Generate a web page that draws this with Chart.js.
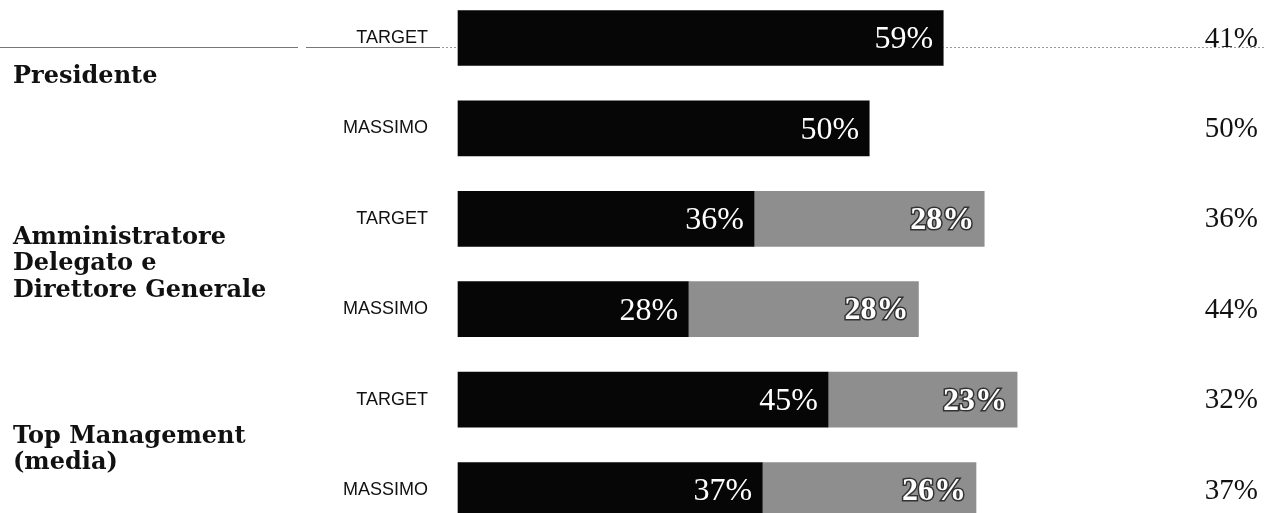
<!DOCTYPE html>
<html>
<head>
<meta charset="utf-8">
<script src="https://cdn.jsdelivr.net/npm/chart.js@4.4.1/dist/chart.umd.min.js"></script>
<style>
  html, body { margin: 0; padding: 0; background: #fff; }
  #wrap { width: 1264px; height: 513px; }
</style>
</head>
<body>
<div id="wrap"><canvas id="chart"></canvas></div>
<script>
// rows top to bottom
const rowLabels = ['TARGET', 'MASSIMO', 'TARGET', 'MASSIMO', 'TARGET', 'MASSIMO'];
const groupNames = [['Presidente'], ['Amministratore', 'Delegato e', 'Direttore Generale'], ['Top Management', '(media)']];
const groupRows = [[0, 1], [2, 3], [4, 5]];
const shortTerm = [59, 50, 36, 28, 45, 37];   // black segment
const longTerm = [0, 0, 28, 28, 23, 26];      // grey segment
const fixedPay = [41, 50, 36, 44, 32, 37];    // printed at the right

// small vertical nudges for the group names
const groupShift = [-6, 0, 5];

const barLabels = {
    id: 'barLabels',
    beforeDatasetsDraw(chart) {
        const ctx = chart.ctx;
        const y0 = chart.scales.y.getPixelForValue(0) + 9.5;
        ctx.save();
        ctx.strokeStyle = '#777';
        ctx.lineWidth = 1;
        ctx.beginPath();
        ctx.moveTo(0, y0); ctx.lineTo(298, y0);
        ctx.moveTo(306, y0); ctx.lineTo(440, y0);
        ctx.stroke();
        ctx.strokeStyle = '#999';
        ctx.setLineDash([2, 2]);
        ctx.beginPath();
        ctx.moveTo(442, y0); ctx.lineTo(chart.width, y0);
        ctx.stroke();
        ctx.restore();
    },
    afterDatasetsDraw(chart) {
        const ctx = chart.ctx;
        ctx.save();
        ctx.textAlign = 'right';
        ctx.textBaseline = 'middle';
        chart.data.datasets.forEach((ds, di) => {
            const meta = chart.getDatasetMeta(di);
            meta.data.forEach((bar, i) => {
                const v = ds.data[i];
                if (!v) return;
                const txt = v + '%';
                if (di === 0) {
                    ctx.font = '32px "Liberation Serif"';
                    ctx.fillStyle = '#fff';
                    ctx.fillText(txt, bar.x - 10, bar.y + 2);
                } else {
                    ctx.font = 'bold 32px "Liberation Serif"';
                    ctx.lineWidth = 3;
                    ctx.strokeStyle = '#333';
                    ctx.strokeText(txt, bar.x - 10, bar.y + 2);
                    ctx.fillStyle = '#fff';
                    ctx.fillText(txt, bar.x - 10, bar.y + 2);
                }
            });
        });
        ctx.restore();
    },
    afterDraw(chart) {
        const ctx = chart.ctx;
        const ys = chart.scales.y;
        ctx.save();
        // fixed share on the right
        ctx.font = '29px "Liberation Serif"';
        ctx.fillStyle = '#111';
        ctx.textAlign = 'right';
        ctx.textBaseline = 'middle';
        fixedPay.forEach((v, i) => {
            ctx.fillText(v + '%', chart.width - 6, ys.getPixelForValue(i) + 1);
        });
        // group names
        ctx.font = 'bold 24px "DejaVu Serif"';
        ctx.textAlign = 'left';
        groupNames.forEach((lines, g) => {
            const mid = (ys.getPixelForValue(groupRows[g][0]) + ys.getPixelForValue(groupRows[g][1])) / 2 + groupShift[g];
            const lh = 26.5;
            const top = mid - (lines.length - 1) * lh / 2;
            lines.forEach((t, k) => ctx.fillText(t, 13, top + k * lh));
        });
        ctx.restore();
    }
};

new Chart(document.getElementById('chart').getContext('2d'), {
    type: 'bar',
    data: {
        labels: rowLabels,
        datasets: [
            { label: 'Variabile breve termine', data: shortTerm, backgroundColor: '#060606', clip: false },
            { label: 'Variabile lungo termine', data: longTerm, backgroundColor: '#8e8e8e', clip: false }
        ]
    },
    options: {
        indexAxis: 'y',
        responsive: true,
        maintainAspectRatio: false,
        animation: false,
        barThickness: 55,
        layout: { padding: { top: 38, bottom: 23, left: 0, right: 66 } },
        plugins: { legend: { display: false }, tooltip: { enabled: false } },
        scales: {
            x: { stacked: true, min: 0, max: 90, display: false },
            y: {
                stacked: true,
                offset: false,
                grid: { display: false, drawTicks: false },
                border: { display: false },
                ticks: { font: { family: '"Liberation Sans"', size: 18 }, color: '#111', padding: 30 },
                afterFit(scale) {
                    scale.width = 458;
                    scale.paddingTop = 0;
                    scale.paddingBottom = 0;
                }
            }
        }
    },
    plugins: [barLabels]
});
</script>
</body>
</html>
